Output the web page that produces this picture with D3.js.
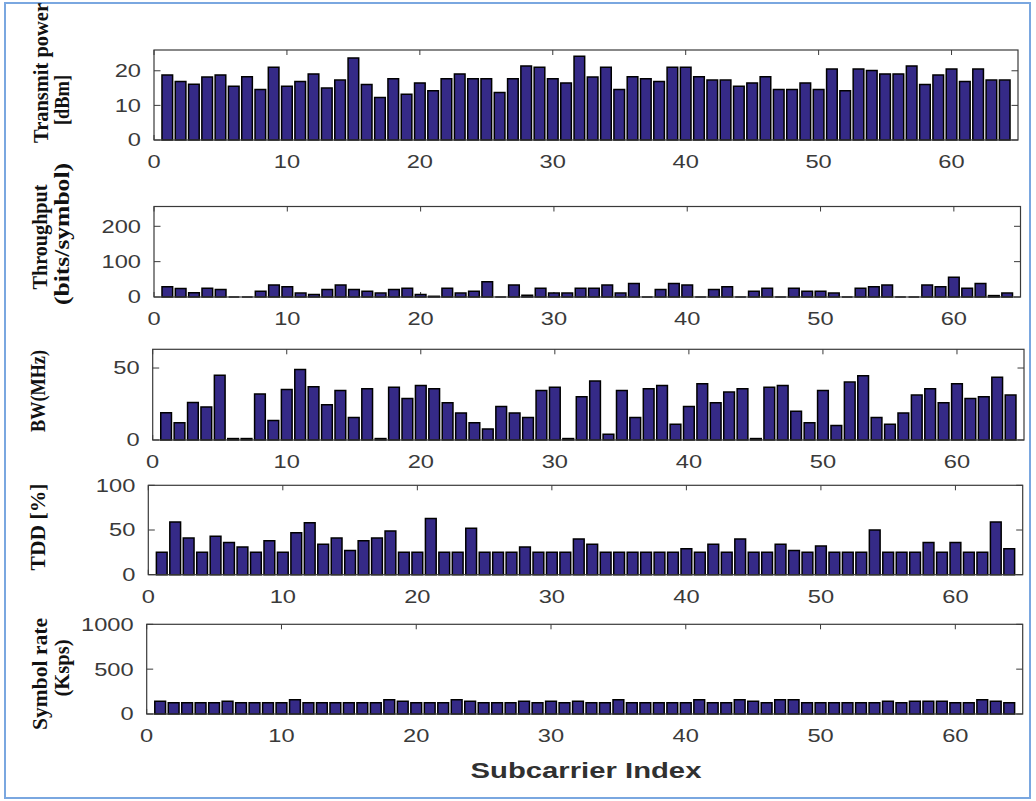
<!DOCTYPE html>
<html>
<head>
<meta charset="utf-8">
<script src="https://cdnjs.cloudflare.com/ajax/libs/d3/7.8.5/d3.min.js"></script>
<style>
    body { margin: 0; background: #fff; }
    .tick-label { font-family: "Liberation Sans", Arial, sans-serif; font-size: 18.5px; fill: #3a3a3a; }
    .y-title { font-family: "Liberation Serif", "Times New Roman", serif; font-size: 21px; font-weight: bold; fill: #111; }
    .x-title { font-family: "Liberation Sans", Arial, sans-serif; font-size: 22px; font-weight: bold; fill: #303030; }
</style>
</head>
<body>
<div id="chart"></div>
<script>

// * Data (64 subcarriers)
var subcarrier = [1,2,3,4,5,6,7,8,9,10,11,12,13,14,15,16,17,18,19,20,21,22,23,24,25,26,27,28,29,30,31,32,
    33,34,35,36,37,38,39,40,41,42,43,44,45,46,47,48,49,50,51,52,53,54,55,56,57,58,59,60,61,62,63,64];

var transmitPower = [18.8,16.9,16.1,18.2,18.8,15.5,18.3,14.6,21.0,15.5, 16.9,19.1,15.0,17.3,23.7,16.0,12.3,17.7,13.2,16.5,
    14.2,17.7,19.1,17.7,17.7,13.7,17.7,21.4,21.0,17.7, 16.5,24.2,18.2,21.0,14.6,18.3,17.7,16.9,21.0,21.0,
    18.3,17.3,17.3,15.5,16.5,18.3,14.6,14.6,16.5,14.6, 20.5,14.2,20.5,20.1,19.1,19.1,21.4,16.0,18.8,20.5,
    16.9,20.5,17.3,17.3];

var throughput = [29,24,12,25,21,0,0,16,34,29, 11,7,21,34,21,16,11,21,25,7,
    2,25,11,16,43,0,34,5,25,11, 11,25,25,34,11,38,0,21,38,34,
    0,21,29,0,16,25,0,25,16,16, 11,0,25,29,34,0,0,34,29,56,
    25,38,4,11];

var bandwidth = [19,12,26,23,45,1,1,32,13.5,35, 49,37,24.4,34.4,15.6,35.6,1,36.7,28.8,37.9,
    35.6,25.8,18.8,12,7.7,23.3,18.8,15.6,34.4,36.7, 1,30,41,4,34.4,15.6,35.6,37.9,11,23.3,
    39,25.8,33.3,35.6,1,36.7,37.9,20,12,34.4, 10,40.2,44.7,15.6,11,18.8,31.2,35.6,25.8,39,
    28.8,30,43.5,31.2];

var tdd = [25,59,41,25,43,36,31,25,38,25, 47,58,34,41,27,38,41,49,25,25,
    63,25,25,52,25,25,25,31,25,25, 25,40,34,25,25,25,25,25,25,29,
    25,34,25,40,25,25,34,27,25,32, 25,25,25,50,25,25,25,36,25,36,
    25,25,59,29];

var symbolRate = [142,125,125,125,125,142,125,125,125,125, 160,125,125,125,125,125,125,160,142,125,
    125,125,160,142,125,125,125,142,125,142, 125,142,125,125,160,125,125,125,125,125,
    160,125,125,160,142,125,160,160,125,125, 125,125,125,125,142,125,142,142,142,125,
    125,160,142,125];

var xTicks = [0,10,20,30,40,50,60];


// * Panel layout (the source figure is slightly skewed, so edges differ per panel)
var panels = [
    { values: transmitPower, yMax: 26,   yTicks: [0,10,20],     left: 154,   right: 1018,  top: 50,    bottom: 140,
      titles: [ {t: "Transmit power", x: 48, y: 73, len: 140}, {t: "[dBm]", x: 69, y: 100, len: 50} ] },
    { values: throughput,    yMax: 256,  yTicks: [0,100,200],   left: 154,   right: 1020.5, top: 206.5, bottom: 297,
      titles: [ {t: "Throughput", x: 47, y: 237, len: 105}, {t: "(bits/symbol)", x: 69, y: 234, len: 142} ] },
    { values: bandwidth,     yMax: 63,   yTicks: [0,50],        left: 152.7, right: 1024,  top: 349.3, bottom: 440,
      titles: [ {t: "BW(MHz)", x: 45, y: 391, len: 82} ] },
    { values: tdd,           yMax: 100,  yTicks: [0,50,100],    left: 148.3, right: 1022.7, top: 485.3, bottom: 574.7,
      titles: [ {t: "TDD [%]", x: 45, y: 527, len: 87} ] },
    { values: symbolRate,    yMax: 1000, yTicks: [0,500,1000],  left: 146.7, right: 1022.7, top: 624.3, bottom: 714,
      titles: [ {t: "Symbol rate", x: 47, y: 674, len: 112}, {t: "(Ksps)", x: 69, y: 668, len: 57} ] }
];

var width = 1036, height = 801;
var barColor = "#352a87";
var axisColor = "#3a3a3a";
var stretch = 1.28;   // the exported figure was stretched horizontally

var svg = d3.select("#chart").append("svg")
    .attr("width", width)
    .attr("height", height);

// light blue frame round the picture
svg.append("rect")
    .attr("x", 5).attr("y", 3)
    .attr("width", 1025).attr("height", 795)
    .attr("fill", "none")
    .attr("stroke", "#7aa7e0")
    .attr("stroke-width", 2);


/*
 *  drawPanel - one bar subplot
 */
function drawPanel(p) {
    var g = svg.append("g");

    var x = d3.scaleLinear().domain([0, 65]).range([p.left, p.right]);
    var y = d3.scaleLinear().domain([0, p.yMax]).range([p.bottom, p.top]);
    var bw = (x(1) - x(0)) * 0.8;

    // ticks inside the box (drawn under the bars)
    var ticks = g.append("g").attr("stroke", axisColor).attr("stroke-width", 1);
    xTicks.forEach(function(t) {
        ticks.append("line").attr("x1", x(t)).attr("x2", x(t)).attr("y1", p.bottom).attr("y2", p.bottom - 5);
        ticks.append("line").attr("x1", x(t)).attr("x2", x(t)).attr("y1", p.top).attr("y2", p.top + 5);
    });
    p.yTicks.forEach(function(t) {
        ticks.append("line").attr("x1", p.left).attr("x2", p.left + 6.5).attr("y1", y(t)).attr("y2", y(t));
        ticks.append("line").attr("x1", p.right).attr("x2", p.right - 6.5).attr("y1", y(t)).attr("y2", y(t));
    });

    // bars as paths so zero values still show an edge line
    g.selectAll(".bar")
        .data(subcarrier)
        .enter()
        .append("path")
        .attr("class", "bar")
        .attr("d", function(d, i) {
            var x0 = x(d) - bw / 2, x1 = x(d) + bw / 2;
            var y0 = y(0), y1 = y(p.values[i]);
            return "M" + x0 + "," + y0 + "V" + y1 + "H" + x1 + "V" + y0 + "Z";
        })
        .attr("fill", barColor)
        .attr("stroke", "#000")
        .attr("stroke-width", 1.5);

    // box
    g.append("rect")
        .attr("x", p.left).attr("y", p.top)
        .attr("width", p.right - p.left).attr("height", p.bottom - p.top)
        .attr("fill", "none")
        .attr("stroke", axisColor)
        .attr("stroke-width", 1.2);

    // tick labels
    g.selectAll(".xlab")
        .data(xTicks)
        .enter()
        .append("text")
        .attr("class", "tick-label")
        .attr("text-anchor", "middle")
        .attr("transform", function(d) { return "translate(" + x(d) + "," + (p.bottom + 28) + ") scale(" + stretch + ",1)"; })
        .text(function(d) { return d; });

    g.selectAll(".ylab")
        .data(p.yTicks)
        .enter()
        .append("text")
        .attr("class", "tick-label")
        .attr("text-anchor", "end")
        .attr("dy", "0.35em")
        .attr("transform", function(d) { return "translate(" + (p.left - 13) + "," + y(d) + ") scale(" + stretch + ",1)"; })
        .text(function(d) { return d; });

    // axis titles (rotated)
    p.titles.forEach(function(tt) {
        g.append("text")
            .attr("class", "y-title")
            .attr("text-anchor", "middle")
            .attr("transform", "translate(" + tt.x + "," + tt.y + ") rotate(-90)")
            .attr("textLength", tt.len)
            .attr("lengthAdjust", "spacingAndGlyphs")
            .text(tt.t);
    });
}

panels.forEach(drawPanel);

// x axis title
svg.append("text")
    .attr("class", "x-title")
    .attr("text-anchor", "middle")
    .attr("transform", "translate(586,778) scale(1.33,1)")
    .text("Subcarrier Index");

</script>
</body>
</html>
